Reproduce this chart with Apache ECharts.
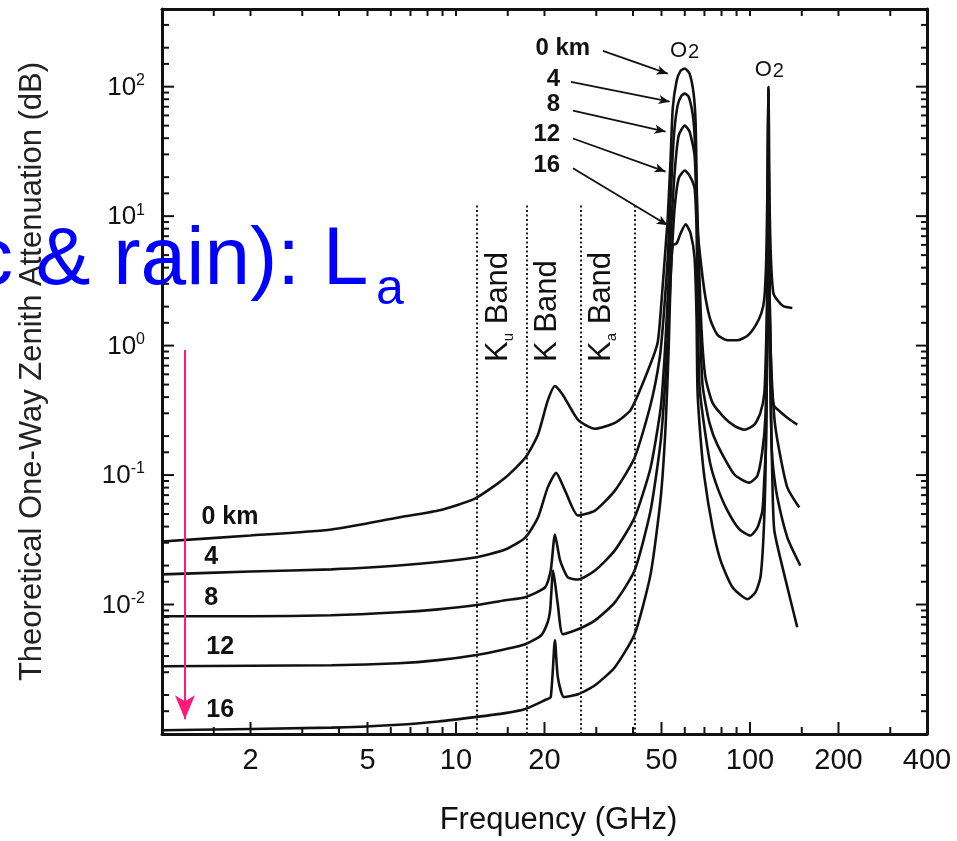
<!DOCTYPE html>
<html><head><meta charset="utf-8">
<script src="https://cdn.jsdelivr.net/npm/echarts@6/dist/echarts.min.js"></script>
<style>html,body{margin:0;padding:0;background:#fff}#c{width:957px;height:841px}</style>
</head><body><div id="c"></div>
<script>
const FONT = '"Liberation Sans", Arial, Helvetica, sans-serif';
const INK = '#111';

// ---- axes / ticks ----
const xTickLabels = [2, 5, 10, 20, 50, 100, 200, 400];
const xMinorTicks = [1.5, 3, 4, 6, 7, 8, 9, 15, 30, 40, 60, 70, 80, 90, 150, 300];
const yTickExponents = [-2, -1, 0, 1, 2];
const yMinorMultipliers = [1.5, 2, 3, 4, 5, 6, 7, 8, 9];
const xRange = [1, 400];
const yRange = [0.001, 398];

// ---- curves (frequency GHz, attenuation dB) ----
const f0km = [1.0, 2.0, 3.77, 6.37, 8.7, 11.6, 14.7, 17.2, 19.0, 20.5, 21.7, 23.1, 26.0, 29.7, 34.7, 39.3, 44.9, 48.5, 50.1, 51.6, 52.5, 53.7, 54.6, 56.3, 58.1, 60.0, 62.3, 64.3, 65.3, 65.8, 66.3, 68.4, 70.6, 73.4, 77.5, 83.8, 90.7, 98.0, 104.3, 109.3, 111.9, 113.6, 114.5, 115.0, 115.5, 116.0, 116.5, 117.8, 120.1, 123.9, 129.8, 139.3];
const a0km = [0.0307, 0.0341, 0.0380, 0.0470, 0.0532, 0.0658, 0.0955, 0.136, 0.205, 0.374, 0.488, 0.416, 0.267, 0.228, 0.253, 0.319, 0.637, 1.05, 2.33, 5.65, 9.62, 27.9, 67.7, 111, 133, 138, 126, 88.3, 53.8, 21.4, 8.05, 3.96, 2.33, 1.57, 1.21, 1.10, 1.10, 1.19, 1.42, 1.78, 2.33, 4.73, 13.7, 47.5, 100, 47.5, 13.7, 4.73, 2.54, 2.25, 2.02, 1.95];

const f4km = [1.0, 2.0, 3.77, 6.37, 11.6, 14.7, 17.2, 19.0, 20.5, 21.9, 23.5, 26.0, 29.7, 34.7, 40.5, 45.9, 49.3, 50.8, 52.5, 53.7, 55.0, 56.7, 58.5, 60.0, 61.8, 63.8, 64.8, 65.8, 66.8, 67.9, 69.0, 70.6, 74.6, 81.9, 88.5, 95.7, 103.5, 108.5, 111.9, 113.6, 115.0, 115.5, 116.0, 117.3, 118.8, 121.0, 125.8, 134.0, 144.8];
const a4km = [0.0171, 0.0180, 0.0187, 0.0200, 0.0231, 0.0266, 0.0329, 0.0470, 0.0800, 0.104, 0.0758, 0.0487, 0.0532, 0.0758, 0.136, 0.349, 0.803, 1.63, 4.73, 13.7, 39.8, 71.4, 85.2, 88.3, 84.0, 61.9, 41.9, 16.4, 5.65, 1.95, 0.958, 0.563, 0.361, 0.277, 0.240, 0.224, 0.245, 0.302, 0.431, 1.14, 5.65, 95, 5.65, 1.14, 0.431, 0.340, 0.313, 0.277, 0.245];

const f8km = [1.0, 2.0, 3.77, 6.37, 8.7, 11.6, 14.7, 17.2, 20.1, 21.0, 21.7, 22.6, 24.0, 26.0, 29.7, 34.7, 40.5, 45.9, 49.7, 51.2, 52.5, 53.7, 55.4, 57.2, 60.0, 62.3, 64.8, 65.8, 66.8, 67.9, 69.0, 72.8, 77.5, 88.5, 99.5, 106.0, 110.2, 112.8, 114.1, 115.0, 115.5, 116.2, 117.5, 121.0, 125.8, 134.0, 147.1];
const a8km = [0.00811, 0.00811, 0.00826, 0.00871, 0.00918, 0.00986, 0.0108, 0.0114, 0.0136, 0.0183, 0.0347, 0.0219, 0.0162, 0.0156, 0.0183, 0.0262, 0.0470, 0.114, 0.331, 0.803, 2.33, 6.75, 21.4, 41.9, 50.1, 45.0, 29.4, 11.5, 3.32, 1.14, 0.488, 0.253, 0.171, 0.101, 0.0874, 0.099, 0.154, 0.277, 0.958, 5.65, 85, 5.65, 0.958, 0.277, 0.154, 0.080, 0.0561];

const f12km = [1.0, 3.77, 6.37, 8.7, 11.6, 14.7, 17.2, 19.5, 20.5, 20.9, 21.4, 22.2, 23.1, 26.0, 29.7, 34.7, 40.5, 45.9, 49.7, 51.6, 52.9, 54.1, 55.4, 57.2, 60.0, 62.3, 64.8, 65.8, 66.3, 66.8, 67.4, 70.0, 73.4, 77.5, 83.8, 92.1, 100.3, 106.0, 110.2, 111.9, 113.2, 114.1, 115.0, 115.5, 116.2, 117.3, 118.5, 120.1, 123.9, 134.0, 148.3];
const a12km = [0.00334, 0.00340, 0.00352, 0.00372, 0.00406, 0.00452, 0.00494, 0.00579, 0.00730, 0.00902, 0.0183, 0.0100, 0.00589, 0.00644, 0.00755, 0.0104, 0.0183, 0.0532, 0.184, 0.563, 1.63, 4.73, 11.5, 19.6, 22.5, 20.6, 16.4, 8.05, 2.33, 0.958, 0.471, 0.232, 0.120, 0.080, 0.0532, 0.0380, 0.0341, 0.0393, 0.0532, 0.0955, 0.163, 0.563, 4.73, 75, 4.73, 0.563, 0.163, 0.110, 0.067, 0.0329, 0.0200];

const f16km = [1.0, 3.77, 6.37, 8.7, 11.6, 14.7, 17.2, 20.1, 21.0, 21.7, 22.2, 23.3, 26.0, 29.7, 34.7, 40.5, 45.9, 49.7, 51.6, 52.9, 53.7, 54.6, 56.3, 58.1, 60.4, 62.8, 64.8, 65.8, 66.3, 67.9, 70.0, 74.6, 79.4, 87.2, 98.0, 104.3, 108.5, 111.1, 112.8, 114.1, 115.0, 115.5, 116.2, 117.3, 119.1, 121.0, 131.5, 144.8];
const a16km = [0.00107, 0.00112, 0.00118, 0.00125, 0.00135, 0.00145, 0.00156, 0.00183, 0.00193, 0.00530, 0.00275, 0.00193, 0.00203, 0.00238, 0.00328, 0.00589, 0.0171, 0.067, 0.232, 0.958, 3.32, 5.96, 6.17, 7.37, 8.65, 7.37, 4.73, 1.63, 0.447, 0.194, 0.0955, 0.0393, 0.0219, 0.0136, 0.0110, 0.0124, 0.0162, 0.0329, 0.0955, 0.563, 5.65, 60, 5.65, 0.563, 0.0955, 0.0373, 0.0162, 0.00667];

// ---- annotations ----
const bandEdges = [11.8, 17.4, 26.5, 40.5];
const bandLineTop = 12.1;
const bandNames = ['K{s|u} Band', 'K Band', 'K{s|a} Band'];
const bandNameF = [13.9, 20.5, 31.2];
const bandNameA = 0.748;

const leftLabelText = ['0 km', '4', '8', '12', '16'];
const leftLabelF = [1.356, 1.388, 1.388, 1.41, 1.41];
const leftLabelA = [0.047, 0.0233, 0.01127, 0.00468, 0.00152];

const topLabelText = ['0 km', '4', '8', '12', '16'];
const topLabelF = [28.7, 22.7, 22.7, 22.7, 22.7];
const topLabelA = [196, 113, 72.6, 42.7, 24.6];
const arrowFromF = [31.6, 24.6, 25.0, 25.0, 25.0];
const arrowFromA = [189, 109, 65.3, 39.8, 23.4];
const arrowToF = [52.5, 53.3, 51.6, 51.6, 52.5];
const arrowToA = [126, 76.6, 45.0, 22.1, 8.49];

const o2LabelF = [59.9, 116.3];
const o2LabelA = [188, 134];

const pinkArrowF = 1.197;
const pinkArrowA = [0.925, 0.0013];

// ---- build ----
const L = Math.log10;
const pts = (f, a) => f.map((v, i) => [L(v), L(a[i])]);
const curves = [
  ['0 km', f0km, a0km], ['4 km', f4km, a4km], ['8 km', f8km, a8km],
  ['12 km', f12km, a12km], ['16 km', f16km, a16km]
];
const yMinor = [];
for (let e = -3; e <= 2; e++) yMinorMultipliers.forEach(m => { const v = m * Math.pow(10, e); if (v < yRange[1]) yMinor.push(L(v)); });
const yMajor = yTickExponents.slice();
const X0 = L(xRange[0]), X1 = L(xRange[1]), Y0 = L(yRange[0]), Y1 = 2.6;

// tick marks drawn through the axes' own coordinate mapping
const TICK_SPECS = [
  { axis: 'x', at: Y0, dir: -1, len: 12 },  // 0 bottom major
  { axis: 'x', at: Y0, dir: -1, len: 7 },   // 1 bottom minor
  { axis: 'x', at: Y1, dir: 1, len: 7 },    // 2 top
  { axis: 'y', at: X0, dir: 1, len: 12 },   // 3 left major
  { axis: 'y', at: X0, dir: 1, len: 7 },    // 4 left minor
  { axis: 'y', at: X1, dir: -1, len: 11 },  // 5 right major
  { axis: 'y', at: X1, dir: -1, len: 6 }    // 6 right minor
];
const tickData = []
  .concat(xTickLabels.map(v => [L(v), 0]))
  .concat(xMinorTicks.map(v => [L(v), 1]))
  .concat(xTickLabels.concat(xMinorTicks).map(v => [L(v), 2]))
  .concat(yMajor.map(v => [v, 3]))
  .concat(yMinor.map(v => [v, 4]))
  .concat(yMajor.map(v => [v, 5]))
  .concat(yMinor.map(v => [v, 6]));

const tickSeries = {
  type: 'custom', xAxisIndex: 0, yAxisIndex: 0, silent: true, clip: false, z: 6,
  data: tickData,
  encode: { x: 0, y: 1 },
  renderItem: (params, api) => {
    const v = api.value(0), spec = TICK_SPECS[api.value(1)];
    let p, q;
    if (spec.axis === 'x') { p = api.coord([v, spec.at]); q = [p[0], p[1] + spec.dir * spec.len]; }
    else { p = api.coord([spec.at, v]); q = [p[0] + spec.dir * spec.len, p[1]]; }
    return { type: 'line', shape: { x1: p[0], y1: p[1], x2: q[0], y2: q[1] }, style: { stroke: INK, lineWidth: 2 } };
  }
};

function xAxis(pos, line, labels) {
  return {
    type: 'value', position: pos, min: X0, max: X1,
    axisLine: { show: line, onZero: false, lineStyle: { color: INK, width: 3 } },
    axisTick: { show: false },
    axisLabel: labels || { show: false },
    splitLine: { show: false }
  };
}
function yAxis(pos, line, labels) {
  return {
    type: 'value', position: pos, min: Y0, max: Y1,
    axisLine: { show: line, onZero: false, lineStyle: { color: INK, width: 3 } },
    axisTick: { show: false },
    axisLabel: labels || { show: false },
    splitLine: { show: false }
  };
}

const xa0 = xAxis('bottom', true, {
  show: true, customValues: xTickLabels.map(L), margin: 12,
  formatter: v => String(Math.round(Math.pow(10, v))),
  fontSize: 29, color: INK, fontFamily: FONT
});
xa0.name = 'Frequency (GHz)';
xa0.nameLocation = 'middle';
xa0.nameGap = 71;
xa0.nameTextStyle = { fontSize: 31, color: INK, fontFamily: FONT, padding: [0, 0, 0, 28] };

const ya0 = yAxis('left', true, {
  show: true, customValues: yMajor, margin: 17,
  formatter: v => '{b|10}{s|' + Math.round(v) + '}',
  rich: {
    b: { fontSize: 26, fontFamily: FONT, color: INK, lineHeight: 28, verticalAlign: 'bottom' },
    s: { fontSize: 16, fontFamily: FONT, color: INK, lineHeight: 16, verticalAlign: 'top' }
  }
});
ya0.name = 'Theoretical One-Way Zenith Attenuation (dB)';
ya0.nameLocation = 'middle';
ya0.nameGap = 114;
ya0.nameTextStyle = { fontSize: 31, color: '#222', fontFamily: FONT };

const curveSeries = curves.map(c => ({
  type: 'line', name: c[0], data: pts(c[1], c[2]),
  xAxisIndex: 0, yAxisIndex: 0,
  symbol: 'none', showSymbol: false, smooth: 0.2, silent: true,
  lineStyle: { color: INK, width: 2.6 }, z: 3
}));

const hidden = { color: 'rgba(0,0,0,0)', opacity: 1 };

const bandSeries = {
  type: 'scatter', xAxisIndex: 0, yAxisIndex: 0, silent: true, symbolSize: 1,
  itemStyle: hidden,
  data: bandNames.map((t, i) => ({ value: [L(bandNameF[i]), L(bandNameA)], text: t })),
  label: {
    show: true, position: 'inside', rotate: 90, align: 'left', verticalAlign: 'middle',
    formatter: p => p.data.text,
    fontSize: 31, fontFamily: FONT, color: INK, lineHeight: 36,
    rich: { s: { fontSize: 15, fontFamily: FONT, color: INK, lineHeight: 28, verticalAlign: 'bottom' } }
  },
  markLine: {
    silent: true, symbol: ['none', 'none'], animation: false, label: { show: false },
    lineStyle: { color: '#222', width: 2, type: [2, 2.5] },
    data: bandEdges.map(f => [{ coord: [L(f), Y0] }, { coord: [L(f), L(bandLineTop)] }])
  },
  z: 2
};

const leftLabelSeries = {
  type: 'scatter', xAxisIndex: 0, yAxisIndex: 0, silent: true, symbolSize: 1,
  itemStyle: hidden,
  data: leftLabelText.map((t, i) => ({ value: [L(leftLabelF[i]), L(leftLabelA[i])], text: t })),
  label: {
    show: true, position: 'right', distance: 0, formatter: p => p.data.text,
    fontSize: 25, fontWeight: 'bold', fontFamily: FONT, color: INK
  },
  z: 4
};

const topLabelSeries = {
  type: 'scatter', xAxisIndex: 0, yAxisIndex: 0, silent: true, symbolSize: 1,
  itemStyle: hidden,
  data: topLabelText.map((t, i) => ({ value: [L(topLabelF[i]), L(topLabelA[i])], text: t })),
  label: {
    show: true, position: 'left', distance: 0, formatter: p => p.data.text,
    fontSize: 24, fontWeight: 'bold', fontFamily: FONT, color: INK
  },
  markLine: {
    silent: true, animation: false, symbol: ['none', 'arrow'], label: { show: false },
    lineStyle: { color: INK, width: 1.8, type: 'solid' }, itemStyle: { color: INK },
    data: arrowFromF.map((f, i) => [
      { coord: [L(f), L(arrowFromA[i])] },
      { coord: [L(arrowToF[i]), L(arrowToA[i])], symbolSize: [7, 11] }
    ])
  },
  z: 4
};

const o2Series = {
  type: 'scatter', xAxisIndex: 0, yAxisIndex: 0, silent: true, symbolSize: 1,
  itemStyle: hidden,
  data: o2LabelF.map((f, i) => [L(f), L(o2LabelA[i])]),
  label: {
    show: true, position: 'inside', formatter: () => '{o|O}{s|2}',
    fontSize: 21, fontFamily: FONT, color: INK,
    rich: {
      o: { fontSize: 22, fontFamily: FONT, color: INK, lineHeight: 22, verticalAlign: 'top' },
      s: { fontSize: 20, fontFamily: FONT, color: INK, lineHeight: 20, verticalAlign: 'bottom', padding: [6, 0, 0, 1] }
    }
  },
  z: 4
};

const pinkSeries = {
  type: 'scatter', xAxisIndex: 0, yAxisIndex: 0, silent: true, symbolSize: 1,
  itemStyle: hidden, data: [[L(pinkArrowF), L(pinkArrowA[0])]],
  markLine: {
    silent: true, animation: false, symbol: ['none', 'arrow'], label: { show: false },
    lineStyle: { color: '#ff1a7a', width: 2, type: 'solid' }, itemStyle: { color: '#ff1a7a' },
    data: [[
      { coord: [L(pinkArrowF), L(pinkArrowA[0])] },
      { coord: [L(pinkArrowF), L(pinkArrowA[1])], symbolSize: [15, 24] }
    ]]
  },
  z: 10
};

const option = {
  animation: false,
  backgroundColor: '#fff',
  grid: { left: 162, right: 30, top: 9, bottom: 104, containLabel: false },
  xAxis: [xa0, xAxis('top', true)],
  yAxis: [ya0, yAxis('right', true)],
  series: curveSeries.concat([tickSeries, bandSeries, leftLabelSeries, topLabelSeries, o2Series, pinkSeries]),
  graphic: [
    { type: 'text', x: -28, y: 261, z: 100, silent: true,
      style: { text: 'c & rain): L', fontSize: 82, fontFamily: FONT, fill: '#0000ff', align: 'left', verticalAlign: 'middle' } },
    { type: 'text', x: 376, y: 290, z: 100, silent: true,
      style: { text: 'a', fontSize: 50, fontFamily: FONT, fill: '#0000ff', align: 'left', verticalAlign: 'middle' } }
  ]
};

const chart = echarts.init(document.getElementById('c'), null, { renderer: 'canvas', width: 957, height: 841 });
chart.setOption(option);
</script>
</body></html>
